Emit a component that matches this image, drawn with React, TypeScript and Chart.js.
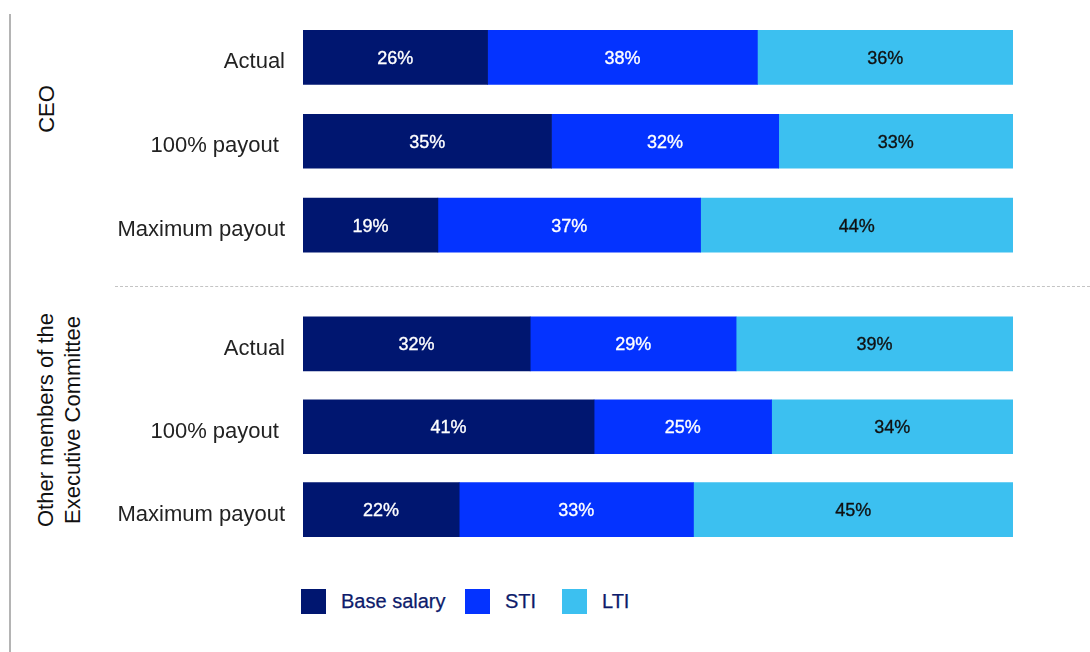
import React, { useEffect, useRef } from "react";
import { Chart, registerables } from "chart.js";

Chart.register(...registerables);

const rowLabels = ["Actual", "100% payout ", "Maximum payout"];
const groupLabels = ["CEO", "Other members of the|Executive Committee"];
const seriesNames = ["Base salary", "STI", "LTI"];
const seriesColors = ["#001670", "#0433ff", "#3cc0f0"];
const labelColors = ["#ffffff", "#ffffff", "#111111"];

const ceoBase = [26, 35, 19];
const ceoSTI = [38, 32, 37];
const ceoLTI = [36, 33, 44];

const otherBase = [32, 41, 22];
const otherSTI = [29, 25, 33];
const otherLTI = [39, 34, 45];

const FONT = "'Liberation Sans', Arial, Helvetica, sans-serif";

const valueLabels = {
  id: "valueLabels",
  afterDatasetsDraw(chart: any) {
    const ctx = chart.ctx;
    ctx.save();
    ctx.font = `18px ${FONT}`;
    ctx.textAlign = "center";
    ctx.textBaseline = "middle";
    ctx.lineWidth = 0.35;
    chart.data.datasets.forEach((ds: any, di: number) => {
      const meta = chart.getDatasetMeta(di);
      meta.data.forEach((el: any, i: number) => {
        const v = ds.data[i];
        const x = (el.x + el.base) / 2;
        ctx.fillStyle = labelColors[di];
        ctx.strokeStyle = labelColors[di];
        ctx.fillText(`${v}%`, x, el.y + 1.5);
        ctx.strokeText(`${v}%`, x, el.y + 1.5);
      });
    });
    ctx.restore();
  },
};

function makeChart(canvas: HTMLCanvasElement, series: number[][], pad: { top: number; bottom: number }) {
  return new Chart(canvas, {
    type: "bar",
    data: {
      labels: rowLabels,
      datasets: series.map((d, i) => ({
        label: seriesNames[i],
        data: d,
        backgroundColor: seriesColors[i],
        borderWidth: 0,
        barThickness: 54,
      })),
    },
    options: {
      indexAxis: "y",
      responsive: false,
      animation: false,
      layout: { padding: { top: pad.top, bottom: pad.bottom, left: 0, right: 77 } },
      plugins: { legend: { display: false }, tooltip: { enabled: false } },
      scales: {
        x: { stacked: true, min: 0, max: 100, display: false },
        y: {
          stacked: true,
          grid: { display: false, drawTicks: false },
          border: { display: false },
          ticks: { color: "#222", font: { family: FONT, size: 22 }, padding: 18, labelOffset: 5 },
          afterFit(scale: any) {
            scale.width = 203;
            scale.paddingTop = 0;
            scale.paddingBottom = 0;
          },
        },
      },
    } as any,
    plugins: [valueLabels],
  });
}

export default function App() {
  const topRef = useRef<HTMLCanvasElement>(null);
  const botRef = useRef<HTMLCanvasElement>(null);

  useEffect(() => {
    document.body.style.margin = "0";
    const c1 = makeChart(topRef.current!, [ceoBase, ceoSTI, ceoLTI], { top: 15.5, bottom: 13 });
    const c2 = makeChart(botRef.current!, [otherBase, otherSTI, otherLTI], { top: 12.5, bottom: 11 });
    return () => {
      c1.destroy();
      c2.destroy();
    };
  }, []);

  const rot: React.CSSProperties = {
    position: "absolute",
    transform: "translate(-50%, -50%) rotate(-90deg)",
    fontFamily: FONT,
    fontSize: 22,
    color: "#111",
    whiteSpace: "nowrap",
    textAlign: "center",
    lineHeight: "27px",
  };

  const legendLeft = [301, 465, 562];

  return (
    <div style={{ position: "relative", width: 1090, height: 652, background: "#fff", overflow: "hidden" }}>
      <div style={{ position: "absolute", left: 9, top: 14, width: 2, height: 638, background: "#b4b4b4" }} />
      <div style={{ ...rot, left: 46, top: 109 }}>{groupLabels[0]}</div>
      <div style={{ ...rot, left: 59, top: 420 }}>
        {groupLabels[1].split("|").map((t, i) => (
          <div key={i}>{t}</div>
        ))}
      </div>
      <div style={{ position: "absolute", left: 115, top: 286, width: 975, height: 0, borderTop: "1px dashed #c4c4c4" }} />
      <canvas ref={topRef} width={990} height={280} style={{ position: "absolute", left: 100, top: 0 }} />
      <canvas ref={botRef} width={990} height={272} style={{ position: "absolute", left: 100, top: 290 }} />
      {seriesNames.map((n, i) => (
        <div
          key={n}
          style={{
            position: "absolute",
            left: legendLeft[i],
            top: 589,
            height: 25,
            display: "flex",
            alignItems: "center",
            fontFamily: FONT,
            fontSize: 20,
            color: "#0d1b6b",
            whiteSpace: "nowrap",
            WebkitTextStroke: "0.25px #0d1b6b",
          }}
        >
          <div style={{ width: 25, height: 25, background: seriesColors[i], marginRight: 15 }} />
          <span>{n}</span>
        </div>
      ))}
    </div>
  );
}
